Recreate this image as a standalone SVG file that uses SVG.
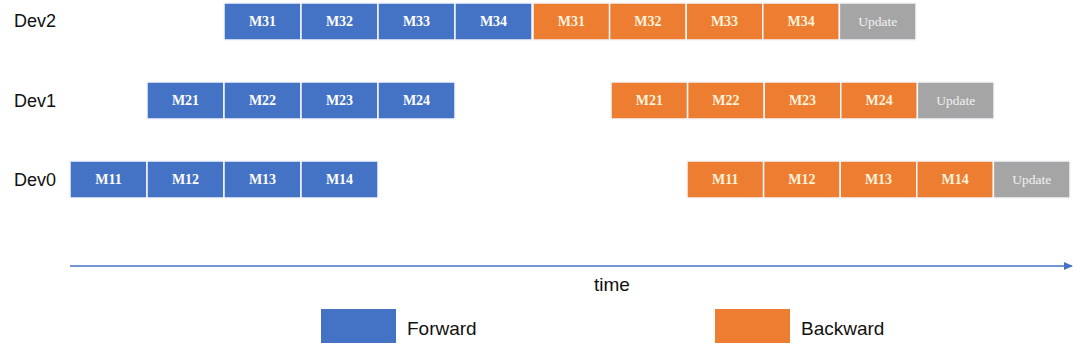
<svg xmlns="http://www.w3.org/2000/svg" width="1080" height="352" viewBox="0 0 1080 352">
<style>
.lbl{font-family:"Liberation Sans",Arial,sans-serif;font-size:18px;fill:#111}
.lg{font-size:19px}
.blk{stroke:#f4f6fb;stroke-width:1.5}
.fw{fill:#4472C4}
.bw{fill:#ED7D31}
.up{fill:#A5A5A5}
.bt{font-family:"Liberation Serif","Times New Roman",serif;font-size:14px;font-weight:bold;text-anchor:middle;dominant-baseline:central}
.tf{fill:#ffffff}
.tb{fill:#fff3dc}
.tu{fill:#f2f2f2;font-weight:normal;font-size:13.5px}
</style>
<defs>
<marker id="arr" markerWidth="9" markerHeight="9" refX="8" refY="4.5" orient="auto" markerUnits="userSpaceOnUse">
<path d="M0,0.5 L9,4.5 L0,8.5 Z" fill="#4472C4"/>
</marker>
</defs>
<rect width="1080" height="352" fill="#ffffff"/>
<text class="lbl" x="14" y="27">Dev2</text>
<text class="lbl" x="14" y="107">Dev1</text>
<text class="lbl" x="14" y="186">Dev0</text>

<!-- Dev2 -->
<g id="d2-f31"><rect class="blk fw" x="224" y="3" width="77" height="37"/><text class="bt tf" x="262.5" y="21.5">M31</text></g>
<g id="d2-f32"><rect class="blk fw" x="301" y="3" width="77" height="37"/><text class="bt tf" x="339.5" y="21.5">M32</text></g>
<g id="d2-f33"><rect class="blk fw" x="378" y="3" width="77" height="37"/><text class="bt tf" x="416.5" y="21.5">M33</text></g>
<g id="d2-f34"><rect class="blk fw" x="455" y="3" width="77" height="37"/><text class="bt tf" x="493.5" y="21.5">M34</text></g>
<g id="d2-b31"><rect class="blk bw" x="533" y="3" width="76.6" height="37"/><text class="bt tb" x="571.3" y="21.5">M31</text></g>
<g id="d2-b32"><rect class="blk bw" x="609.6" y="3" width="76.6" height="37"/><text class="bt tb" x="647.9" y="21.5">M32</text></g>
<g id="d2-b33"><rect class="blk bw" x="686.2" y="3" width="76.6" height="37"/><text class="bt tb" x="724.5" y="21.5">M33</text></g>
<g id="d2-b34"><rect class="blk bw" x="762.8" y="3" width="76.6" height="37"/><text class="bt tb" x="801.1" y="21.5">M34</text></g>
<g id="d2-up"><rect class="blk up" x="839.4" y="3" width="76.6" height="37"/><text class="bt tu" x="877.7" y="21.5">Update</text></g>

<!-- Dev1 -->
<g id="d1-f21"><rect class="blk fw" x="147" y="82" width="77" height="37"/><text class="bt tf" x="185.5" y="100.5">M21</text></g>
<g id="d1-f22"><rect class="blk fw" x="224" y="82" width="77" height="37"/><text class="bt tf" x="262.5" y="100.5">M22</text></g>
<g id="d1-f23"><rect class="blk fw" x="301" y="82" width="77" height="37"/><text class="bt tf" x="339.5" y="100.5">M23</text></g>
<g id="d1-f24"><rect class="blk fw" x="378" y="82" width="77" height="37"/><text class="bt tf" x="416.5" y="100.5">M24</text></g>
<g id="d1-b21"><rect class="blk bw" x="611" y="82" width="76.6" height="37"/><text class="bt tb" x="649.3" y="100.5">M21</text></g>
<g id="d1-b22"><rect class="blk bw" x="687.6" y="82" width="76.6" height="37"/><text class="bt tb" x="725.9" y="100.5">M22</text></g>
<g id="d1-b23"><rect class="blk bw" x="764.2" y="82" width="76.6" height="37"/><text class="bt tb" x="802.5" y="100.5">M23</text></g>
<g id="d1-b24"><rect class="blk bw" x="840.8" y="82" width="76.6" height="37"/><text class="bt tb" x="879.1" y="100.5">M24</text></g>
<g id="d1-up"><rect class="blk up" x="917.4" y="82" width="76.6" height="37"/><text class="bt tu" x="955.7" y="100.5">Update</text></g>

<!-- Dev0 -->
<g id="d0-f11"><rect class="blk fw" x="70" y="161" width="77" height="37"/><text class="bt tf" x="108.5" y="179.5">M11</text></g>
<g id="d0-f12"><rect class="blk fw" x="147" y="161" width="77" height="37"/><text class="bt tf" x="185.5" y="179.5">M12</text></g>
<g id="d0-f13"><rect class="blk fw" x="224" y="161" width="77" height="37"/><text class="bt tf" x="262.5" y="179.5">M13</text></g>
<g id="d0-f14"><rect class="blk fw" x="301" y="161" width="77" height="37"/><text class="bt tf" x="339.5" y="179.5">M14</text></g>
<g id="d0-b11"><rect class="blk bw" x="687" y="161" width="76.6" height="37"/><text class="bt tb" x="725.3" y="179.5">M11</text></g>
<g id="d0-b12"><rect class="blk bw" x="763.6" y="161" width="76.6" height="37"/><text class="bt tb" x="801.9" y="179.5">M12</text></g>
<g id="d0-b13"><rect class="blk bw" x="840.2" y="161" width="76.6" height="37"/><text class="bt tb" x="878.5" y="179.5">M13</text></g>
<g id="d0-b14"><rect class="blk bw" x="916.8" y="161" width="76.6" height="37"/><text class="bt tb" x="955.1" y="179.5">M14</text></g>
<g id="d0-up"><rect class="blk up" x="993.4" y="161" width="76.6" height="37"/><text class="bt tu" x="1031.7" y="179.5">Update</text></g>

<g id="connectors">
<line x1="70" y1="266" x2="1072" y2="266" stroke="#4472C4" stroke-width="1.5" marker-end="url(#arr)"/>
</g>
<text class="lbl lg" x="612" y="291" text-anchor="middle">time</text>

<g id="legend-forward"><rect class="fw" x="321" y="309" width="75" height="34"/><text class="lbl lg" x="407" y="335">Forward</text></g>
<g id="legend-backward"><rect class="bw" x="715" y="309" width="75" height="34"/><text class="lbl lg" x="801" y="335">Backward</text></g>
</svg>
